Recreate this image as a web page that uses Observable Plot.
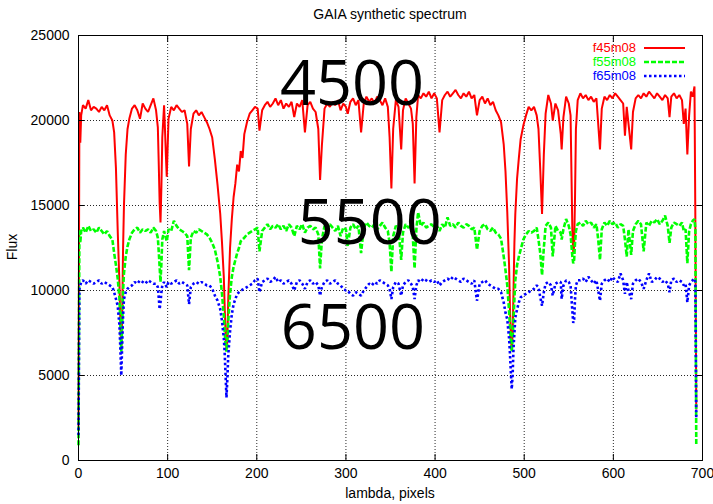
<!DOCTYPE html>
<html><head><meta charset="utf-8">
<script src="https://cdn.jsdelivr.net/npm/d3@7"></script>
<script src="https://cdn.jsdelivr.net/npm/@observablehq/plot@0.6"></script>
<style>
html,body{margin:0;padding:0;background:#fff;}
#wrap{position:relative;width:713px;height:504px;font-family:"Liberation Sans",Arial,sans-serif;font-size:14px;color:#000;overflow:hidden;}
#chart svg{display:block;}
.ov{position:absolute;white-space:nowrap;line-height:14px;}
.lg{position:absolute;left:540px;width:96px;text-align:right;font-size:13px;line-height:12px;height:12px;white-space:nowrap;}
</style></head><body>
<div id="wrap"><div id="chart"></div></div>
<script>
// ---- data ----
const lambda = [
 0,1,2,3,5,8,11,14,17,20,23,26,29,32,35,38,
 40,42,44,46,47,48,49,50,51,53,55,57,60,
 63,66,69,72,75,78,81,84,87,
 89,90,91,92,93,94,96,97,98,99,101,
 104,107,110,113,116,119,122,124,126,129,132,135,138,141,144,
 147,150,153,156,159,161,163,164,165,166,167,168,170,172,174,176,178,180,182,184,186,189,192,195,198,
 201,203,206,209,212,215,218,221,224,227,230,233,236,239,242,245,248,251,254,257,260,263,266,269,271,273,276,279,282,285,288,291,294,297,300,
 302,305,308,311,314,317,320,323,326,329,332,335,338,341,344,347,349,351,353,356,359,362,364,367,370,373,375,377,379,381,384,387,390,393,396,399,
 402,405,408,411,414,417,420,423,426,429,432,435,438,441,444,447,450,453,456,459,462,465,468,
 471,474,477,479,481,483,484,485,486,487,488,489,490,492,494,496,499,502,505,508,
 511,514,516,518,520,522,524,527,530,532,535,538,541,542,544,547,550,552,554,555,556,557,558,560,
 563,566,569,572,575,578,581,583,585,587,590,593,596,599,602,605,608,611,613,615,617,620,622,625,628,631,634,637,640,643,646,649,652,655,658,661,663,665,668,671,674,677,679,681,683,685,687,689,691,692,693
];
const f45m08 = [
 2000,20500,18700,20300,20900,20700,21200,20600,20800,20700,20500,20800,20600,20900,20300,20000,
 19300,17200,13500,10300,8000,6500,8500,12500,15000,18000,19500,20100,20700,
 20900,20600,20100,21000,20700,20500,20900,21300,20600,
 19600,17500,15200,14000,16100,19000,20900,19500,18000,16700,20100,
 20800,20600,20900,20700,20500,20600,19800,17300,19500,20400,20600,20300,20500,20200,19900,
 19500,19000,17700,16200,14500,12800,10800,9000,7500,6500,7200,9500,12500,14200,15500,16300,17400,17000,18200,17800,19200,19900,20400,20600,20800,
 20700,19400,20600,20900,21100,20800,21000,21300,20900,21200,20700,21000,20800,21100,20200,21000,20800,21200,19300,20900,21100,20700,20500,19500,16500,18500,20700,21000,20800,21100,20900,21200,20600,21000,20800,
 20400,21100,21300,20900,21200,19300,21000,21400,21100,21300,21000,21400,21200,20900,21300,20800,19000,16000,19500,21200,20800,18300,20600,21300,21000,20700,19800,16300,20200,21500,21300,21600,21400,21700,21300,21600,
 21300,19300,21200,21500,21700,21400,21600,21800,21500,21300,21600,21400,21700,21300,21500,20300,21200,21400,21000,21300,20900,21100,20600,
 20300,19900,18600,17000,14600,11500,9000,7300,6500,7500,10000,12800,14500,16600,17800,18900,19700,20300,20800,20600,
 20800,20300,19500,17100,14500,18000,20400,21500,21000,20000,21000,20600,19200,18300,20200,21400,21000,20300,13500,12200,12600,15500,19500,21200,
 21600,21300,21500,21200,21400,21100,21300,19800,18300,20700,21400,21200,21500,21300,21600,21400,21200,21000,19100,20800,19800,18300,20500,21300,21500,21300,21600,21400,21700,21500,21300,21600,21400,21200,21500,21300,20200,21400,21600,21300,21500,21200,19800,20700,18000,20300,21700,21400,22000,14000,3000
];
const f55m08 = [
 900,13600,12800,13500,13700,13400,13800,13500,13600,13400,13700,13500,13300,13500,13200,13000,
 12200,11500,10700,9500,8000,6400,8000,10000,11000,12000,12600,13000,13400,
 13600,13700,13400,13600,13500,13600,13400,13700,13500,
 13100,12300,11400,10500,11600,13000,13500,13300,13100,12900,13600,
 13500,14100,13800,13600,13500,13400,13200,11200,13100,13500,13400,13600,13500,13400,13300,
 13100,12800,12400,11700,10800,9800,8500,7600,6800,6400,7000,8200,9800,10800,11400,11800,12200,12500,12900,13000,13100,13300,13400,13500,13600,
 13700,12300,13500,13700,13900,13600,13800,13700,13900,13600,13800,13500,13900,13700,13200,13800,13600,13900,13400,13700,13800,13600,13700,13300,11300,13000,13800,13600,13900,13700,13500,13800,13200,13700,13600,
 12600,13700,13900,13600,13800,12200,13700,14000,13800,13700,13900,13600,13800,14000,13700,13500,12800,11100,13200,13800,13600,11800,13400,13900,13700,13800,13200,11300,13600,14600,13800,14000,13700,13800,13900,13700,
 13800,13500,13900,13700,14300,13800,13900,13700,14000,13800,13700,13900,13800,13600,13700,12400,13500,13800,13900,13600,13500,13700,13400,
 13300,13050,12000,11200,10300,8800,7900,7000,6400,7200,8300,9500,10600,11500,12000,12400,13000,13300,13500,13400,
 13500,13700,13000,12200,10900,12500,13800,14000,13700,12000,13800,13500,13400,13000,13600,14200,13800,13300,12000,11600,11800,12800,13500,13900,
 14000,13800,14100,13900,14000,13700,13900,13000,11800,13600,14000,13800,14100,13900,14000,13700,13900,13800,13000,12000,13600,12100,13500,13900,14100,13900,12300,14000,13800,14100,14000,14200,13900,14100,14400,13800,12800,13700,14000,13900,13800,14000,13500,13600,11600,13500,13900,14100,14200,13600,900
];
const f65m08 = [
 1500,10100,10300,10500,10600,10400,10600,10500,10400,10500,10600,10400,10500,10400,10300,10200,
 9900,9500,9100,7900,6500,5000,6800,8500,9500,9900,10100,10200,10300,
 10500,10400,10600,10500,10400,10600,10500,10400,10400,
 10200,9600,8900,9300,9900,10300,10500,10400,10300,10200,10500,
 10400,10500,10600,10400,10500,10400,10300,9200,10200,10400,10500,10400,10500,10400,10300,
 10300,10100,9700,9400,8900,8200,7200,6300,5000,3700,4800,6200,7600,8600,9200,9500,9800,9900,10000,10050,10100,10200,10300,10400,10600,
 10700,9900,10500,10600,10700,10500,10600,10800,10500,10600,10400,10500,10600,10400,10000,10500,10600,10400,10100,10500,10600,10400,10500,10300,9700,10200,10500,10600,10400,10500,10600,10400,10300,10100,10000,
 10000,9800,9700,9900,9800,9700,10000,10200,10400,10300,10500,10400,10600,10500,10400,10300,10100,9500,10200,10500,10400,9700,10300,10500,10600,10400,10200,9500,10300,10600,10500,10700,10600,10500,10600,10500,
 10600,10300,10500,10600,10700,10600,10800,10700,10600,10500,10700,10600,10500,10400,10600,9400,10400,10500,10600,10400,10300,10200,10100,
 10100,9900,9300,8700,8300,7200,6300,5200,4200,5000,6600,7500,8400,8900,9300,9600,9700,9800,9900,10000,
 10100,10300,10200,9600,9100,9900,10400,10500,10300,9700,10400,10500,10500,9500,10300,10600,10500,10300,8800,8100,8300,9500,10300,10600,
 10600,10700,10500,10800,10600,10400,10600,10000,9400,10400,10600,10700,10500,10800,10600,10500,11000,10600,9800,10500,10000,9500,10400,10600,10700,10500,10100,10600,11000,10500,10600,10800,10700,10500,10600,10400,9900,10600,10700,10500,10600,10500,10300,10400,9300,10300,10500,10600,10700,10500,2500
];
const seriesNames = ["f45m08", "f55m08", "f65m08"];
const xTicks = [0, 100, 200, 300, 400, 500, 600, 700];
const yTicks = [0, 5000, 10000, 15000, 20000, 25000];
const annotationText = ["4500", "5500", "6500"];
const annotationLambda = [226, 246, 227];
const annotationFlux = [22110, 13950, 7760];
const titleText = "GAIA synthetic spectrum";
const xLabel = "lambda, pixels";
const yLabel = "Flux";

// ---- styles ----
const colors = ["#ff0000", "#00ff00", "#0000ff"];
const dashes = [null, "5,2", "2.5,2.5"];
const widths = [2, 2.6, 2.6];

const seriesValues = [f45m08, f55m08, f65m08];
const n = Math.min(lambda.length, f45m08.length, f55m08.length, f65m08.length);
const tables = seriesValues.map((vals, s) =>
  d3.range(n).map(i => ({lambda: lambda[i], flux: vals[i], series: seriesNames[s]})));
const annotations = annotationText.map((t, i) => ({t, x: annotationLambda[i], y: annotationFlux[i]}));

const gridStyle = {stroke: "#000", strokeOpacity: 0.85, strokeDasharray: "1,2"};
const fmt = d => String(d);
const blank = () => "";

const chart = Plot.plot({
  width: 713, height: 504,
  marginTop: 35, marginRight: 11, marginBottom: 44, marginLeft: 78,
  style: {fontFamily: '"Liberation Sans", Arial, sans-serif', fontSize: "14px", background: "#fff", color: "#000", overflow: "visible"},
  x: {domain: [0, 700]},
  y: {domain: [0, 25000]},
  marks: [
    Plot.gridX(xTicks, gridStyle),
    Plot.gridY(yTicks, gridStyle),
    ...tables.map((t, s) => Plot.line(t, {x: "lambda", y: "flux", stroke: colors[s], strokeWidth: widths[s], strokeDasharray: dashes[s], strokeLinejoin: "miter", strokeLinecap: "butt"})),
    Plot.axisX(xTicks, {anchor: "bottom", tickSize: 0, tickPadding: 8, label: null, tickFormat: fmt}),
    Plot.axisY(yTicks, {anchor: "left", tickSize: 0, tickPadding: 9, label: null, tickFormat: fmt}),
    Plot.axisX(xTicks, {anchor: "bottom", tickSize: 6, dy: -6, label: null, tickFormat: blank}),
    Plot.axisX(xTicks, {anchor: "top", tickSize: 6, dy: 6, label: null, tickFormat: blank}),
    Plot.axisY(yTicks, {anchor: "left", tickSize: 6, dx: 6, label: null, tickFormat: blank}),
    Plot.axisY(yTicks, {anchor: "right", tickSize: 6, dx: -6, label: null, tickFormat: blank}),
    Plot.frame({stroke: "#000"}),
    Plot.text(annotations, {x: "x", y: "y", text: "t", textAnchor: "start", lineAnchor: "middle", fontFamily: '"Open Sans", "Noto Sans", sans-serif', fontSize: 63, fill: "#000"})
  ]
});
const wrap = document.getElementById("wrap");
document.getElementById("chart").appendChild(chart);

function ov(text, css) {
  const d = document.createElement("div");
  d.className = "ov";
  d.textContent = text;
  Object.assign(d.style, css);
  wrap.appendChild(d);
  return d;
}
ov(titleText, {left: "390px", top: "14px", transform: "translate(-50%,-50%)"});
ov(xLabel, {left: "390px", top: "493px", transform: "translate(-50%,-50%)"});
ov(yLabel, {left: "12px", top: "247px", transform: "translate(-50%,-50%) rotate(-90deg)"});

// legend
seriesNames.forEach((name, s) => {
  const cy = 48 + s * 14;
  const d = document.createElement("div");
  d.className = "lg";
  d.style.top = (cy - 6) + "px";
  d.style.color = colors[s];
  d.textContent = name;
  wrap.appendChild(d);
  const svg = d3.select(wrap).append("svg")
    .style("position", "absolute").style("left", "644px").style("top", (cy - 4) + "px")
    .attr("width", 42).attr("height", 8);
  svg.append("line").attr("x1", 0).attr("x2", 41).attr("y1", 4).attr("y2", 4)
    .attr("stroke", colors[s]).attr("stroke-width", widths[s])
    .attr("stroke-dasharray", dashes[s]);
});
</script>
</body></html>
